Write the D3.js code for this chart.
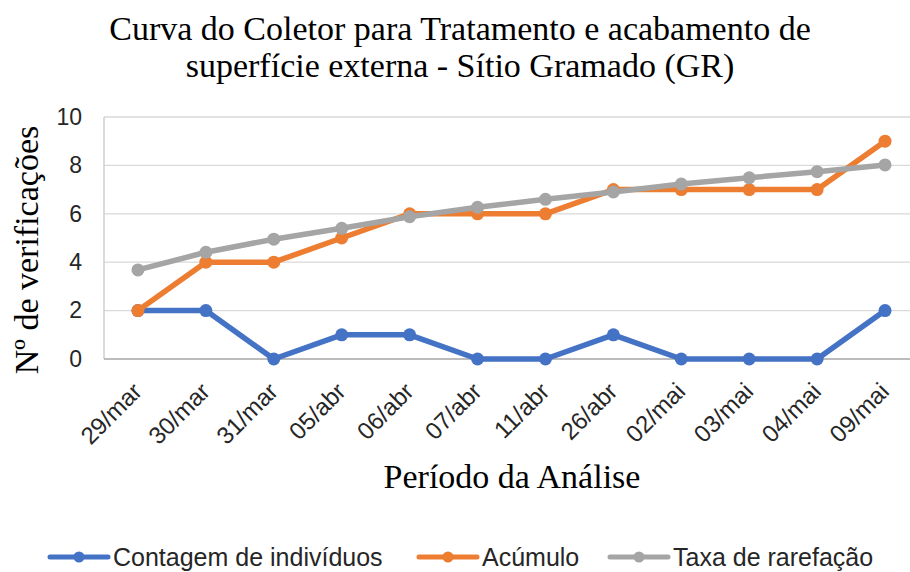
<!DOCTYPE html>
<html>
<head>
<meta charset="utf-8">
<script src="https://cdn.jsdelivr.net/npm/d3@7"></script>
<style>
  body { margin: 0; background: #fff; }
  svg { display: block; }
</style>
</head>
<body>
<svg id="chart" width="910" height="572"></svg>
<script>
// data
const categories = ["29/mar", "30/mar", "31/mar", "05/abr", "06/abr", "07/abr",
                    "11/abr", "26/abr", "02/mai", "03/mai", "04/mai", "09/mai"]
const contagem = [2, 2, 0, 1, 1, 0, 0, 1, 0, 0, 0, 2]
const acumulo = [2, 4, 4, 5, 6, 6, 6, 7, 7, 7, 7, 9]
const rarefacao = [3.68, 4.41, 4.95, 5.40, 5.88, 6.27, 6.60, 6.90, 7.23, 7.49, 7.74, 8.02]
const yTicks = [0, 2, 4, 6, 8, 10]
const seriesNames = ["Contagem de indivíduos", "Acúmulo", "Taxa de rarefação"]
const colors = ["#4472C4", "#ED7D31", "#A5A5A5"]

const plot = { left: 104, right: 919, top: 117, bottom: 359 }
const sans = "Liberation Sans, Arial, sans-serif"
const serif = "Liberation Serif, Times New Roman, serif"

const svg = d3.select("#chart")

const x = d3.scalePoint().domain(categories).range([plot.left, plot.right]).padding(0.5)
const y = d3.scaleLinear().domain([0, 10]).range([plot.bottom, plot.top])

// gridlines
svg.append("g")
    .selectAll("line")
    .data(yTicks.filter(d => d > 0))
    .join("line")
    .attr("x1", plot.left).attr("x2", plot.right)
    .attr("y1", d => y(d)).attr("y2", d => y(d))
    .attr("stroke", "#d9d9d9")
    .attr("stroke-width", 1.3)

// left axis line
svg.append("line")
    .attr("x1", plot.left).attr("x2", plot.left)
    .attr("y1", plot.top).attr("y2", plot.bottom)
    .attr("stroke", "#c8c8c8").attr("stroke-width", 1.3)

// bottom axis line
svg.append("line")
    .attr("x1", plot.left).attr("x2", plot.right)
    .attr("y1", plot.bottom).attr("y2", plot.bottom)
    .attr("stroke", "#a6a6a6").attr("stroke-width", 1.3)

// y tick labels
const yAxis = d3.axisLeft(y).tickValues(yTicks).tickSize(0).tickPadding(22)
const yg = svg.append("g")
    .attr("transform", `translate(${plot.left}, 0)`)
    .call(yAxis)
yg.select(".domain").remove()
yg.selectAll("text")
    .attr("font-family", sans)
    .attr("font-size", 23)
    .attr("fill", "#262626")

// x tick labels rotated
const xAxis = d3.axisBottom(x).tickSize(0).tickPadding(0)
const xg = svg.append("g")
    .attr("transform", `translate(0, ${plot.bottom})`)
    .call(xAxis)
xg.select(".domain").remove()
xg.selectAll("text")
    .attr("font-family", sans)
    .attr("font-size", 24)
    .attr("fill", "#262626")
    .attr("text-anchor", "end")
    .attr("dy", null)
    .attr("y", 0)
    .attr("transform", "translate(5, 34) rotate(-45)")

// series
const allSeries = [contagem, acumulo, rarefacao]
const line = d3.line()
    .x((d, i) => x(categories[i]))
    .y(d => y(d))

allSeries.forEach((values, k) => {
    svg.append("path")
        .datum(values)
        .attr("d", line)
        .attr("fill", "none")
        .attr("stroke", colors[k])
        .attr("stroke-width", 5.5)
        .attr("stroke-linejoin", "round")
        .attr("stroke-linecap", "round")

    svg.append("g")
        .selectAll("circle")
        .data(values)
        .join("circle")
        .attr("cx", (d, i) => x(categories[i]))
        .attr("cy", d => y(d))
        .attr("r", 6.5)
        .attr("fill", colors[k])
})

// title
const title = svg.append("text")
    .attr("text-anchor", "middle")
    .attr("font-family", serif)
    .attr("font-size", 34)
    .attr("fill", "#000")
title.append("tspan").attr("x", 460).attr("y", 40).text("Curva do Coletor para Tratamento e acabamento de")
title.append("tspan").attr("x", 460).attr("y", 77).text("superfície externa - Sítio Gramado (GR)")

// axis titles
svg.append("text")
    .attr("transform", `translate(38, 250) rotate(-90)`)
    .attr("text-anchor", "middle")
    .attr("font-family", serif)
    .attr("font-size", 34)
    .text("Nº de verificações")

svg.append("text")
    .attr("x", 512)
    .attr("y", 488)
    .attr("text-anchor", "middle")
    .attr("font-family", serif)
    .attr("font-size", 34)
    .text("Período da Análise")

// legend
const legendX = [50, 419, 610]
const legend = svg.append("g")
seriesNames.forEach((name, k) => {
    const g = legend.append("g").attr("transform", `translate(${legendX[k]}, 557)`)
    g.append("line")
        .attr("x1", 0).attr("x2", 58)
        .attr("stroke", colors[k]).attr("stroke-width", 5)
        .attr("stroke-linecap", "round")
    g.append("circle").attr("cx", 29).attr("r", 5.5).attr("fill", colors[k])
    g.append("text")
        .attr("x", 63).attr("y", 8.5)
        .attr("font-family", sans)
        .attr("font-size", 25)
        .attr("fill", "#262626")
        .text(name)
})
</script>
</body>
</html>
